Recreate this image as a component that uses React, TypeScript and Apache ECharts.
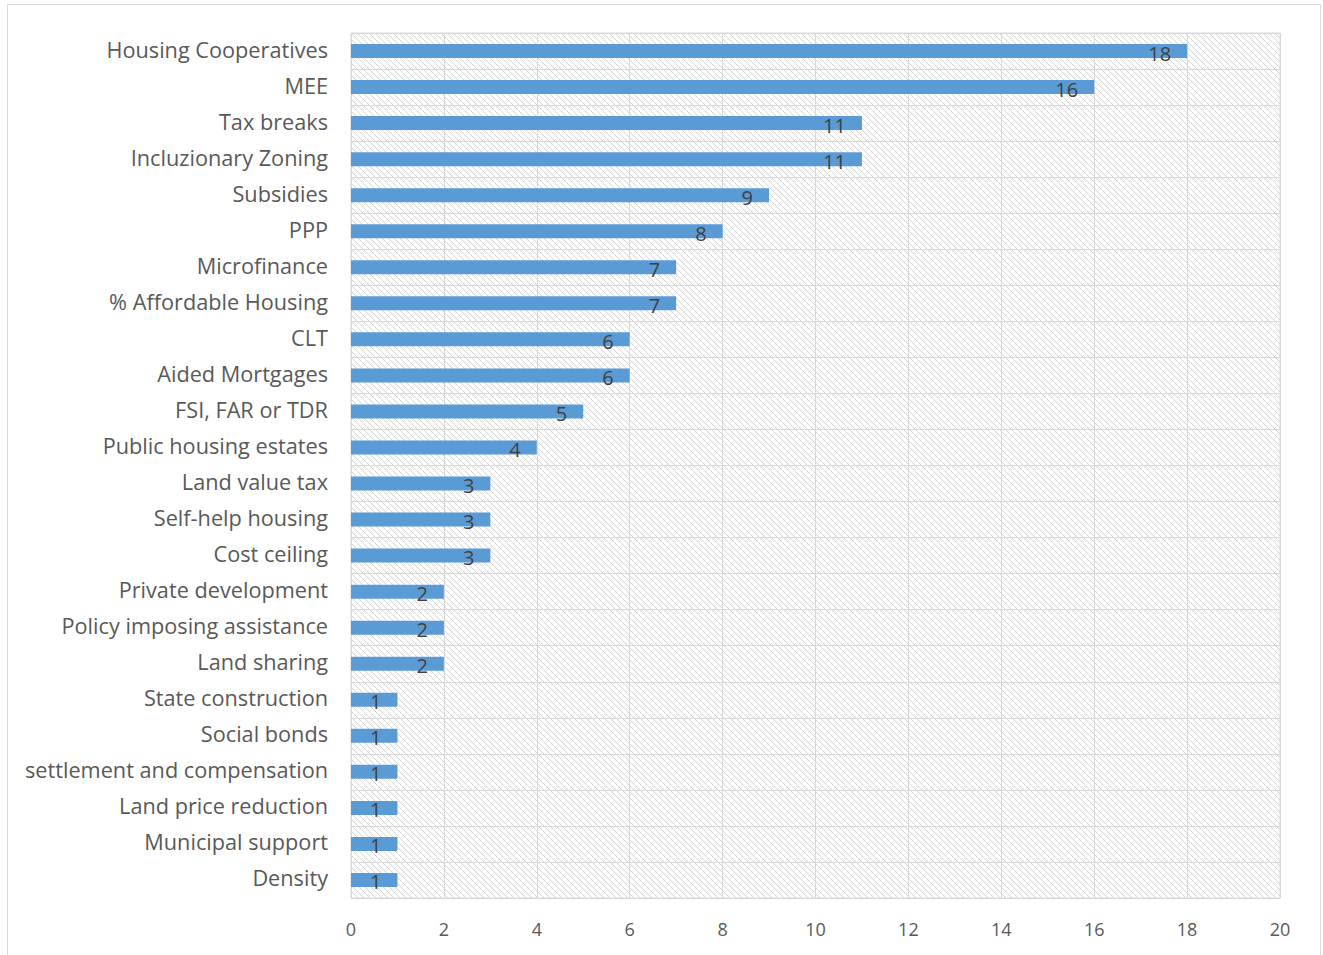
import React, { useEffect, useRef } from "react";
import * as echarts from "echarts";

const categories = [
  "Housing Cooperatives",
  "MEE",
  "Tax breaks",
  "Incluzionary Zoning",
  "Subsidies",
  "PPP",
  "Microfinance",
  "% Affordable Housing",
  "CLT",
  "Aided Mortgages",
  "FSI, FAR or TDR",
  "Public housing estates",
  "Land value tax",
  "Self-help housing",
  "Cost ceiling",
  "Private development",
  "Policy imposing assistance",
  "Land sharing",
  "State construction",
  "Social bonds",
  "settlement and compensation",
  "Land price reduction",
  "Municipal support",
  "Density",
];

const values = [18, 16, 11, 11, 9, 8, 7, 7, 6, 6, 5, 4, 3, 3, 3, 2, 2, 2, 1, 1, 1, 1, 1, 1];

const xTicks = { min: 0, max: 20, interval: 2 };

function makeHatch(): string {
  const c = document.createElement("canvas");
  const n = 6;
  c.width = n;
  c.height = n;
  const ctx = c.getContext("2d")!;
  ctx.fillStyle = "#ffffff";
  ctx.fillRect(0, 0, n, n);
  ctx.fillStyle = "#d4d4d4";
  for (let i = 0; i < n; i++) {
    ctx.fillRect(i, i, 1, 1);
  }
  return c.toDataURL();
}

export default function App() {
  const ref = useRef<HTMLDivElement>(null);
  useEffect(() => {
    if (!ref.current) return;
    const chart = echarts.init(ref.current, null, { renderer: "svg" });
    const hatch = makeHatch();
    const font = "'Open Sans', sans-serif";
    chart.setOption({
      animation: false,
      graphic: [
        {
          type: "rect",
          shape: { x: 7.5, y: 4.5, width: 1313, height: 960 },
          style: { fill: "none", stroke: "#d9d9d9", lineWidth: 1 },
          silent: true,
          z: -10,
        },
      ],
      grid: {
        left: 351,
        right: 43,
        top: 33,
        bottom: 57,
        show: true,
        backgroundColor: {
          image: hatch,
          repeat: "repeat",
          imageWidth: 6,
          imageHeight: 6,
        } as any,
        borderColor: "#d9d9d9",
        borderWidth: 1,
      },
      xAxis: {
        type: "value",
        min: xTicks.min,
        max: xTicks.max,
        interval: xTicks.interval,
        axisLine: { show: false },
        axisTick: { show: false },
        splitLine: { show: true, lineStyle: { color: "#d9d9d9", width: 1 } },
        axisLabel: {
          color: "#595959",
          fontFamily: font,
          fontSize: 18,
          margin: 22,
        },
      },
      yAxis: {
        type: "category",
        data: categories,
        inverse: true,
        axisLine: { show: false },
        axisTick: { show: false },
        splitLine: { show: true, lineStyle: { color: "#d9d9d9", width: 1 } },
        axisLabel: {
          margin: 23,
          formatter: (v: string) => "{a|" + v + "}",
          rich: {
            a: {
              color: "#595959",
              fontFamily: font,
              fontSize: 21.7,
              padding: [0, 0, 4, 0],
            },
          },
        },
      },
      series: [
        {
          type: "bar",
          data: values,
          barWidth: 14,
          itemStyle: { color: "#5b9bd5" },
          label: {
            show: true,
            position: "insideRight",
            distance: 16,
            offset: [0, 2],
            color: "#404040",
            fontFamily: font,
            fontSize: 20,
          },
        },
      ],
    });
    return () => chart.dispose();
  }, []);
  return <div ref={ref} style={{ width: 1323, height: 955, position: "absolute", left: 0, top: 0 }} />;
}
